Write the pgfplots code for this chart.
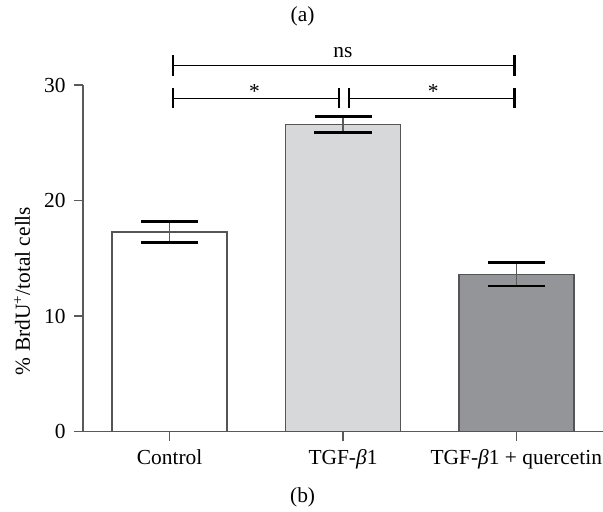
\documentclass[border=0pt]{standalone}
\usepackage{fontspec}
\setmainfont{Liberation Serif}
\usepackage{pgfplots}
\pgfplotsset{compat=1.18}
\definecolor{axisgray}{HTML}{5A5A5A}
\definecolor{bargray}{HTML}{555555}
\definecolor{lightbar}{HTML}{D7D8DA}
\definecolor{darkbar}{HTML}{949599}
\pgfplotsset{
  sembar/.style={draw=bargray, line width=1.4bp,
    error bars/.cd, y dir=both, y explicit,
    error bar style={line width=1.4bp, axisgray},
    error mark options={rotate=90, mark size=28.5bp, line width=2.8bp, black},
    /pgfplots/.cd},
}
\begin{document}
\begin{tikzpicture}[font=\fontsize{21.5}{25}\selectfont]
\begin{axis}[
  scale only axis, width=520bp, height=346.7bp,
  xmin=-0.5, xmax=2.5, ymin=0, ymax=30,
  axis lines=left,
  axis line style={axisgray, line width=1.5bp, -},
  xtick={0,1,2},
  xticklabels={Control, TGF-{\itshape β}1, TGF-{\itshape β}1 + quercetin},
  ytick={0,10,20,30},
  tick align=outside, major tick length=9bp,
  tick style={axisgray, line width=1.3bp},
  tick label style={font=\fontsize{21.5}{25}\selectfont},
  xticklabel style={yshift=-5bp},
  yticklabel style={xshift=-5bp},
  label style={font=\fontsize{21.5}{25}\selectfont},
  /pgf/number format/assume math mode=true,
  ylabel={\% BrdU\textsuperscript{+}/total cells},
  ylabel style={at={(axis description cs:-0.117,0.406)}, anchor=center},
  ybar, bar width=115bp, bar shift=0pt,
  clip=false,
]
% mean +- error
\addplot[fill=white, sembar] coordinates {(0,17.29) +- (0,0.93)};
\addplot[fill=lightbar, sembar] coordinates {(1,26.56) +- (0,0.69)};
\addplot[fill=darkbar, sembar] coordinates {(2,13.61) +- (0,1.01)};

% significance brackets
\draw[black, line width=1.3bp] (axis cs:0.02,31.66) -- (axis cs:1.99,31.66);
\draw[black, line width=2.3bp] (axis cs:0.02,30.77) -- (axis cs:0.02,32.59);
\draw[black, line width=2.3bp] (axis cs:1.99,30.77) -- (axis cs:1.99,32.59);
\node[anchor=base, inner sep=0pt] at (axis cs:1,32.35) {ns};

\draw[black, line width=1.3bp] (axis cs:0.02,28.84) -- (axis cs:0.975,28.84);
\draw[black, line width=1.3bp] (axis cs:1.035,28.84) -- (axis cs:1.99,28.84);
\draw[black, line width=2.3bp] (axis cs:0.02,27.98) -- (axis cs:0.02,29.7);
\draw[black, line width=2.3bp] (axis cs:0.975,27.98) -- (axis cs:0.975,29.7);
\draw[black, line width=2.3bp] (axis cs:1.035,27.98) -- (axis cs:1.035,29.7);
\draw[black, line width=2.3bp] (axis cs:1.99,27.98) -- (axis cs:1.99,29.7);
\node[anchor=base, inner sep=0pt] at (axis cs:0.49,28.84) {*};
\node[anchor=base, inner sep=0pt] at (axis cs:1.52,28.84) {*};

\node at (axis cs:0.767,35.9) {(a)};
\node at (axis cs:0.767,-5.7) {(b)};
\end{axis}
\pgfresetboundingbox
\path ([xshift=-83bp,yshift=-80bp]current axis.south west) rectangle ([yshift=85bp]current axis.north east);
\end{tikzpicture}
\end{document}
